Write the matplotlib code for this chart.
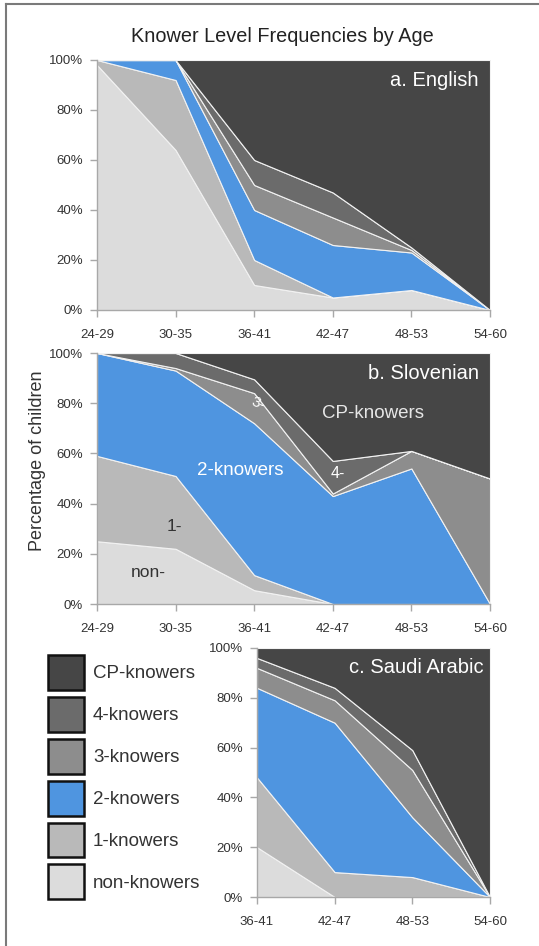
import matplotlib
matplotlib.use("Agg")
import matplotlib.pyplot as plt
from matplotlib.patches import Patch
from matplotlib.lines import Line2D

plt.rcParams['font.family'] = ['Liberation Sans', 'DejaVu Sans']

levels = ["non-knowers", "1-knowers", "2-knowers", "3-knowers", "4-knowers", "CP-knowers"]
colors = ["#dcdcdc", "#b9b9b9", "#4f95e0", "#8d8d8d", "#6b6b6b", "#464646"]

# a. English
ages_a = ["24-29", "30-35", "36-41", "42-47", "48-53", "54-60"]
eng_non = [98, 64, 10, 5, 8, 0]
eng_one = [2, 28, 10, 0, 0, 0]
eng_two = [0, 8, 20, 21, 15, 0]
eng_three = [0, 0, 10, 11, 1, 0]
eng_four = [0, 0, 10, 10, 1, 0]
eng_cp = [0, 0, 40, 53, 75, 100]

# b. Slovenian
ages_b = ["24-29", "30-35", "36-41", "42-47", "48-53", "54-60"]
slo_non = [25, 22, 5.5, 0, 0, 0]
slo_one = [34, 29, 6, 0, 0, 0]
slo_two = [41, 42, 60.5, 43, 54, 0]
slo_three = [0, 1, 12, 1, 7, 50]
slo_four = [0, 6, 5.5, 13, 0, 0]
slo_cp = [0, 0, 10.5, 43, 39, 50]

# c. Saudi Arabic
ages_c = ["36-41", "42-47", "48-53", "54-60"]
sau_non = [20, 0, 0, 0]
sau_one = [28, 10, 8, 0]
sau_two = [36, 60, 24, 0]
sau_three = [8, 9, 19, 0]
sau_four = [4, 5, 8, 0]
sau_cp = [4, 16, 41, 100]

W, H = 539, 946
fig = plt.figure(figsize=(W / 100, H / 100), dpi=100)


def px_axes(x0, x1, ytop, ybot):
    return fig.add_axes([x0 / W, 1 - ybot / H, (x1 - x0) / W, (ybot - ytop) / H])


def panel(ax, ages, series, label):
    x = list(range(len(ages)))
    ax.stackplot(x, *series, colors=colors, edgecolor="#f2f2f2", linewidth=0.8)
    ax.set_xlim(0, len(ages) - 1)
    ax.set_ylim(0, 100)
    ax.set_xticks(x)
    ax.set_xticklabels(ages)
    ax.set_yticks(range(0, 101, 20))
    ax.set_yticklabels([f"{v}%" for v in range(0, 101, 20)])
    for s in ["top", "right"]:
        ax.spines[s].set_visible(False)
    for s in ["left", "bottom"]:
        ax.spines[s].set_color("#a8a8a8")
        ax.spines[s].set_linewidth(1.0)
    ax.tick_params(colors="#a8a8a8", labelcolor="#333333", labelsize=9.5, length=5, width=1)
    ax.tick_params(axis="x", pad=9)
    ax.tick_params(axis="y", pad=5)
    ax.text(0.972, 0.92, label, transform=ax.transAxes, ha="right", va="center",
            color="white", fontsize=14.5)


ax_a = px_axes(97, 490, 60, 310)
panel(ax_a, ages_a, [eng_non, eng_one, eng_two, eng_three, eng_four, eng_cp], "a. English")

ax_b = px_axes(97, 490, 353, 604)
panel(ax_b, ages_b, [slo_non, slo_one, slo_two, slo_three, slo_four, slo_cp], "b. Slovenian")
ax_b.set_ylabel("Percentage of children", fontsize=13, color="#333333")
ax_b.yaxis.set_label_coords(-0.13, 0.57)
ax_b.text(3.51, 76, "CP-knowers", color="#e6e6e6", fontsize=13.5, ha="center", va="center")
ax_b.text(1.82, 53, "2-knowers", color="white", fontsize=13.5, ha="center", va="center")
ax_b.text(2.05, 80, "3-", color="white", fontsize=11, ha="center", va="center", rotation=-20)
ax_b.text(3.07, 52, "4-", color="white", fontsize=11.5, ha="center", va="center")
ax_b.text(0.99, 31, "1-", color="#333333", fontsize=12.5, ha="center", va="center")
ax_b.text(0.65, 12.4, "non-", color="#333333", fontsize=12.5, ha="center", va="center")

ax_c = px_axes(257, 490, 648, 897)
panel(ax_c, ages_c, [sau_non, sau_one, sau_two, sau_three, sau_four, sau_cp], "c. Saudi Arabic")

fig.text(282 / W, 1 - 37 / H, "Knower Level Frequencies by Age", ha="center", va="center",
         fontsize=14.3, color="#222222")

handles = [Patch(facecolor=c, edgecolor="#111111", linewidth=1.8) for c in colors][::-1]
fig.legend(handles, levels[::-1], loc="upper left", bbox_to_anchor=(48 / W, 1 - 655 / H),
           frameon=False, fontsize=13.5, handlelength=1.92, handleheight=2.49,
           labelspacing=0.37, handletextpad=0.48, borderpad=0, borderaxespad=0,
           labelcolor="#333333")

# outer frame (left and top edges only)
fig.add_artist(Line2D([6 / W, 6 / W], [0, 1 - 4 / H], transform=fig.transFigure, color="#7a7a7a", lw=1.5))
fig.add_artist(Line2D([6 / W, 1], [1 - 4 / H, 1 - 4 / H], transform=fig.transFigure, color="#7a7a7a", lw=1.5))

fig.savefig("out.png", dpi=100, facecolor="white")
